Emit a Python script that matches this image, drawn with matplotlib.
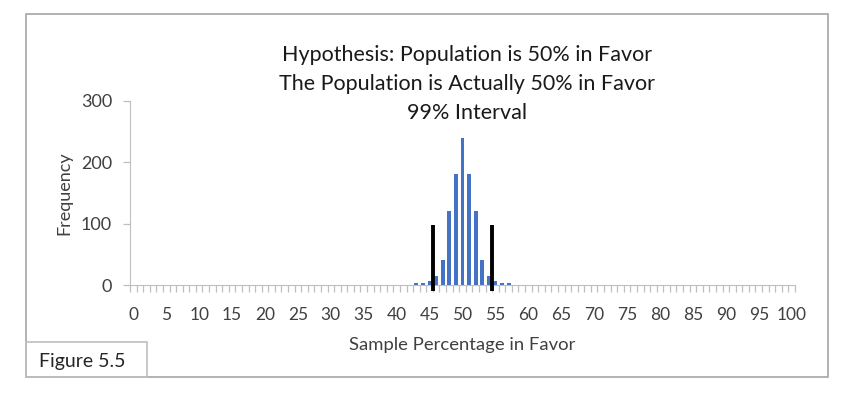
import numpy as np
import matplotlib.pyplot as plt
from matplotlib.patches import Rectangle

# sample percentage in favor (categories 0..100) and how often each came up
pct = np.arange(0, 101)
nonzero_pct = [43, 44, 45, 46, 47, 48, 49, 50, 51, 52, 53, 54, 55, 56, 57]
nonzero_freq = [3, 4, 6, 15, 40, 120, 180, 240, 180, 120, 40, 15, 6, 4, 3]
freq = np.zeros(len(pct))
for p, f in zip(nonzero_pct, nonzero_freq):
    freq[p] = f

# 99% interval cut-offs (drawn between categories)
cut_points = [45.5, 54.5]
cut_top = 97
cut_bottom = -10

title_lines = ["Hypothesis: Population is 50% in Favor",
               "The Population is Actually 50% in Favor",
               "99% Interval"]
x_ticks = np.arange(0, 101, 5)
y_ticks = [0, 100, 200, 300]

W, H = 850, 397
font = 'Lato'
grey = '#BFBFBF'
txt = '#404040'

fig = plt.figure(figsize=(W / 100, H / 100), dpi=100)

# outer chart frame and the "Figure 5.5" tab
fig.patches.append(Rectangle((25.5 / W, 1 - 377 / H), (828 - 25.5) / W, (377 - 13.5) / H,
                             transform=fig.transFigure, fill=False, ec='#A6A6A6', lw=1.2))
fig.patches.append(Rectangle((25.5 / W, 1 - 377 / H), (147 - 25.5) / W, (377 - 342) / H,
                             transform=fig.transFigure, fill=False, ec='#BFBFBF', lw=1.2))
fig.text(39 / W, 1 - 362 / H, "Figure 5.5", fontsize=14, family=font, color='#262626',
         va='center', ha='left')

ax = fig.add_axes([130 / W, 1 - 285 / H, 665 / W, 184.3 / H])
ax.bar(pct, freq, width=0.6, color='#4472C4', zorder=2)
ax.vlines(cut_points, cut_bottom, cut_top, colors='black', lw=2.8, zorder=3, clip_on=False)

ax.set_xlim(-0.5, 100.5)
ax.set_ylim(0, 300)
ax.set_xticks(x_ticks)
ax.set_xticks(np.arange(-0.5, 101, 1), minor=True)
ax.set_yticks(y_ticks)
ax.tick_params(axis='x', which='major', length=0, pad=16, labelsize=12.5, labelcolor=txt)
ax.tick_params(axis='x', which='minor', length=5, color=grey, width=0.9)
ax.tick_params(axis='y', length=5, color=grey, width=0.9, labelsize=13, labelcolor=txt, pad=8)
for lab in ax.get_xticklabels() + ax.get_yticklabels():
    lab.set_family(font)

for s in ['top', 'right']:
    ax.spines[s].set_visible(False)
ax.spines['left'].set_color(grey)
ax.spines['bottom'].set_color(grey)

ax.set_ylabel("Frequency", fontsize=13, family=font, color=txt, labelpad=6)
ax.set_xlabel("Sample Percentage in Favor", fontsize=13.3, family=font, color=txt, labelpad=10)

for i, line in enumerate(title_lines):
    fig.text(467 / W, 1 - (55 + 29 * i) / H, line, fontsize=15.5, family=font,
             color='#1a1a1a', ha='center', va='center')

fig.savefig('out.png', dpi=100)
